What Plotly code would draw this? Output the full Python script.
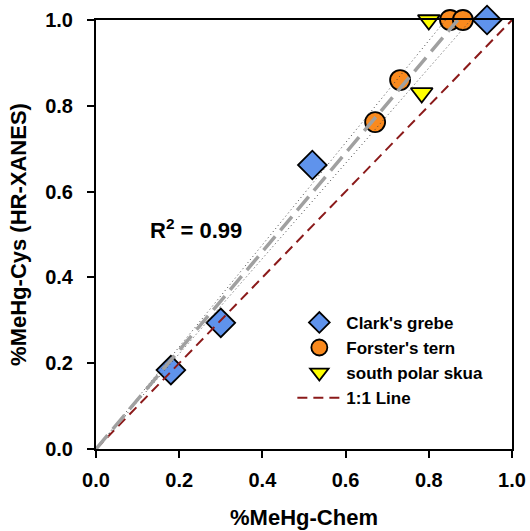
import plotly.graph_objects as go
import numpy as np

# Data
grebe_x = [0.18, 0.30, 0.52, 0.94]
grebe_y = [0.184, 0.294, 0.662, 1.0]
tern_x = [0.671, 0.731, 0.851, 0.882]
tern_y = [0.762, 0.860, 1.0, 1.0]
skua_x = [0.80, 0.783]
skua_y = [1.0, 0.83]

fit_slope = 1.15
ci_slopes = [1.11, 1.19]
r2_label = "R<sup>2</sup> = 0.99"

tick_vals = [0.0, 0.2, 0.4, 0.6, 0.8, 1.0]
tick_text = ["0.0", "0.2", "0.4", "0.6", "0.8", "1.0"]

FONT = "Liberation Sans, Arial, sans-serif"

fig = go.Figure()

mk_line = dict(color="black", width=1.8)
fig.add_trace(go.Scatter(x=grebe_x, y=grebe_y, mode="markers", name="Clark's grebe",
                         marker=dict(symbol="diamond", size=22, color="#5F93EC", line=mk_line),
                         cliponaxis=False))
fig.add_trace(go.Scatter(x=tern_x, y=tern_y, mode="markers", name="Forster's tern",
                         marker=dict(symbol="circle", size=20, color="#FA8A1E", line=mk_line),
                         cliponaxis=False))
fig.add_trace(go.Scatter(x=skua_x, y=skua_y, mode="markers", name="south polar skua",
                         marker=dict(symbol="triangle-down", size=19, color="#FFFF00", line=mk_line),
                         cliponaxis=False))

# 1:1 line
fig.add_trace(go.Scatter(x=[0, 1], y=[0, 1], mode="lines", name="1:1 Line",
                         line=dict(color="#8B1A1A", width=2, dash="10px,6px")))

# confidence lines
for s in ci_slopes:
    xe = 1.0 / s
    fig.add_trace(go.Scatter(x=[0, xe], y=[0, 1.0], mode="lines", showlegend=False,
                             line=dict(color="#444444", width=1, dash="1px,3px"),
                             hoverinfo="skip"))
# fit line
xe = 1.0 / fit_slope
fig.add_trace(go.Scatter(x=[0, xe], y=[0, 1.0], mode="lines", showlegend=False,
                         line=dict(color="#A0A0A0", width=3.5, dash="18px,8px"),
                         hoverinfo="skip"))

fig.add_annotation(x=0.24, y=0.512, xref="x", yref="y", text=r2_label, showarrow=False,
                   font=dict(family=FONT, size=22, color="black", weight="bold"))

axis_common = dict(range=[0, 1], tickvals=tick_vals, ticktext=tick_text,
                   showgrid=False, zeroline=False, showline=True, linecolor="black",
                   linewidth=2, mirror=True, ticks="outside", ticklen=7, tickwidth=2,
                   tickcolor="black",
                   tickfont=dict(family=FONT, size=20, color="black", weight="bold"))

fig.update_xaxes(**axis_common, ticklabelstandoff=5,
                 title=dict(text="%MeHg-Chem", standoff=20,
                            font=dict(family=FONT, size=22, color="black", weight="bold")))
fig.update_yaxes(**axis_common, ticklabelstandoff=10,
                 title=dict(text="%MeHg-Cys (HR-XANES)", standoff=12,
                            font=dict(family=FONT, size=22, color="black", weight="bold")))

fig.update_layout(
    width=530, height=531,
    margin=dict(l=96, r=18, t=20, b=82, autoexpand=False),
    plot_bgcolor="white", paper_bgcolor="white",
    showlegend=True,
    legend=dict(x=0.472, y=0.336, xanchor="left", yanchor="top",
                bgcolor="rgba(0,0,0,0)", borderwidth=0,
                font=dict(family=FONT, size=17, color="black", weight="bold"),
                tracegroupgap=0, itemwidth=44),
)

fig.write_html("out.html")
